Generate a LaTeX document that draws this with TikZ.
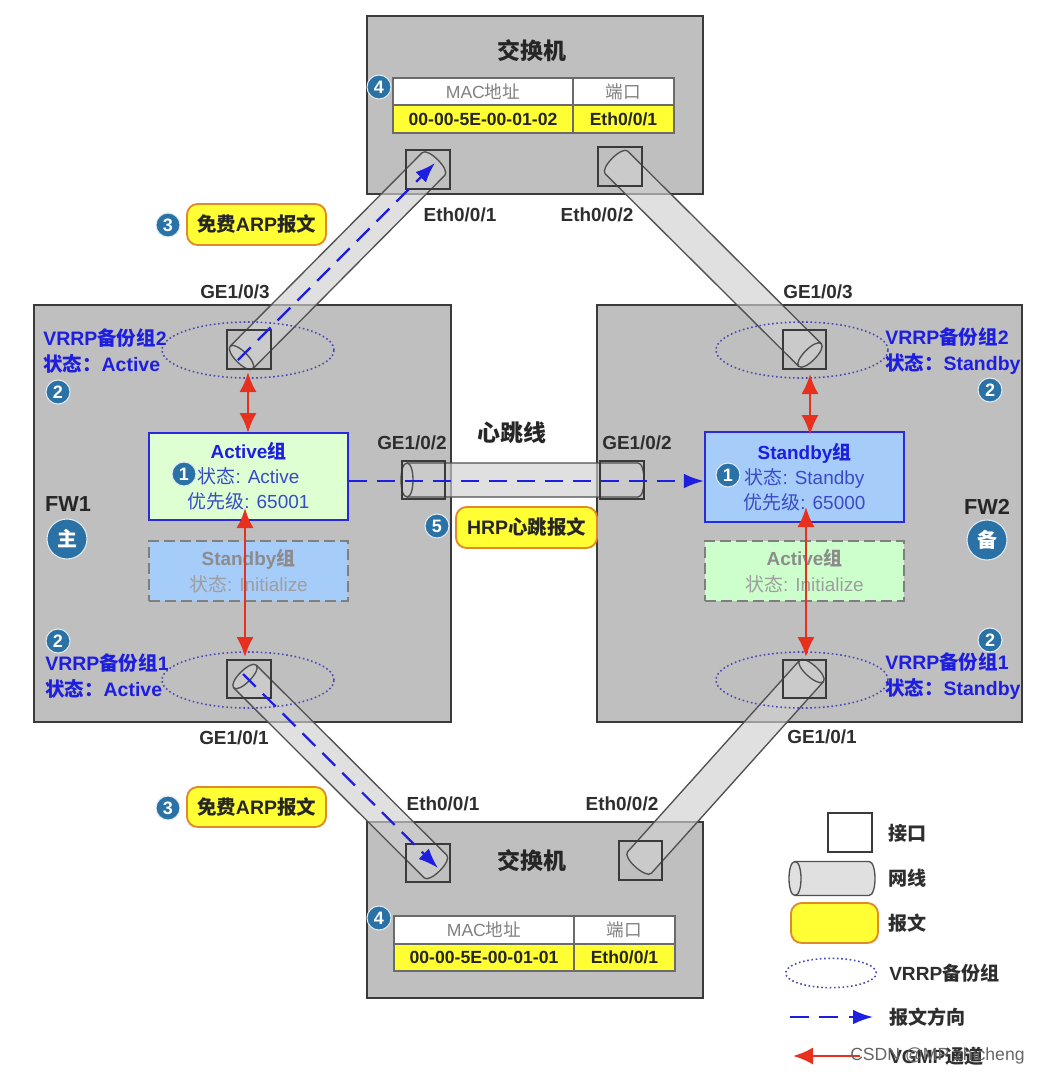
\documentclass[tikz,border=0pt]{standalone}
\usepackage{fontspec}
\setmainfont{Liberation Sans}
\newfontfamily\cjk{Noto Sans CJK SC}
\usetikzlibrary{calc,arrows.meta,shapes.geometric}
\definecolor{devgray}{HTML}{BFBFBF}
\definecolor{edgegray}{HTML}{3A3A3A}
\definecolor{cablegray}{HTML}{D0D0D0}
\definecolor{cableline}{HTML}{505050}
\definecolor{msgyellow}{HTML}{FFFF33}
\definecolor{msgorange}{HTML}{E08A2A}
\definecolor{vrblue}{HTML}{1E1EE0}
\definecolor{boxblue}{HTML}{2A2ADC}
\definecolor{txtblue}{HTML}{3A4AC8}
\definecolor{badgeblue}{HTML}{2A72A6}
\definecolor{paleblue}{HTML}{A6CCFA}
\definecolor{palegreen}{HTML}{DDFFD2}
\definecolor{dimgreen}{HTML}{CCFFCC}
\definecolor{arrred}{HTML}{E8301E}
\definecolor{dashedge}{HTML}{7F7F7F}
\newcommand{\rnode}[7][]{%
  \pgfmathsetmacro{\rw}{(#5-#3)*0.75}%
  \pgfmathsetmacro{\rh}{(#6-#4)*0.75}%
  \node[#1,minimum width=\rw pt,minimum height=\rh pt,inner sep=0pt] (#2) at ({(#3+#5)/2},{(#4+#6)/2}) {#7};}
% \cablerun{name}{ax}{ay}{bx}{by}
\newcommand{\cablerun}[6][16]{%
  \pgfmathsetmacro{\hw}{#1*0.75}%
  \coordinate (#2-a) at (#3,#4);
  \coordinate (#2-b) at (#5,#6);
  \coordinate (#2-a1) at ($(#2-a)!\hw pt!90:(#2-b)$);
  \coordinate (#2-a2) at ($(#2-a)!\hw pt!-90:(#2-b)$);
  \coordinate (#2-b1) at ($(#2-b)!\hw pt!-90:(#2-a)$);
  \coordinate (#2-b2) at ($(#2-b)!\hw pt!90:(#2-a)$);
  \path[cablefill] (#2-a1) -- (#2-b1)
    .. controls ($(#2-b1)!6pt!90:(#2-b)$) and ($(#2-b2)!6pt!-90:(#2-b)$) .. (#2-b2)
    -- (#2-a2)
    .. controls ($(#2-a2)!6pt!90:(#2-a)$) and ($(#2-a1)!6pt!-90:(#2-a)$) .. (#2-a1) -- cycle;
  \draw[cableedge] (#2-a1) -- (#2-b1)
    .. controls ($(#2-b1)!6pt!90:(#2-b)$) and ($(#2-b2)!6pt!-90:(#2-b)$) .. (#2-b2)
    -- (#2-a2)
    .. controls ($(#2-a2)!6pt!90:(#2-a)$) and ($(#2-a1)!6pt!-90:(#2-a)$) .. (#2-a1);
  \draw[cableedge] (#2-a1)
    .. controls ($(#2-a1)!6pt!90:(#2-a)$) and ($(#2-a2)!6pt!-90:(#2-a)$) .. (#2-a2);
}
\tikzset{
  device/.style={draw=edgegray,line width=1.6pt,fill=devgray},
  portbox/.style={draw=edgegray,line width=1.7pt},
  cablefill/.style={fill=cablegray,fill opacity=.65},
  cableedge/.style={draw=cableline,line width=1pt},
  tablehead/.style={draw=edgegray!75,line width=.8pt,fill=white,text=gray,font=\fontsize{13.2pt}{16pt}\selectfont},
  tablerow/.style={draw=edgegray!75,line width=.8pt,fill=msgyellow,text=black!85,font=\bfseries\fontsize{13.2pt}{16pt}\selectfont},
  msgbox/.style={draw=msgorange,line width=1.4pt,fill=msgyellow,rounded corners=8pt,text=black!85,font=\bfseries\fontsize{14.6pt}{17pt}\selectfont},
  lab/.style={inner sep=0pt,text=black!82,font=\bfseries\fontsize{14.2pt}{17pt}\selectfont},
  fwlab/.style={inner sep=0pt,text=black!85,font=\bfseries\fontsize{16.3pt}{19pt}\selectfont},
  titlelab/.style={inner sep=0pt,text=black!85,font=\bfseries\fontsize{17.2pt}{20pt}\selectfont},
  vrrplab/.style={inner sep=0pt,anchor=west,align=left,text=vrblue,font=\bfseries\fontsize{14.6pt}{19.4pt}\selectfont},
  groupbox/.style={draw=boxblue,line width=1.6pt,align=center,text=txtblue,font=\fontsize{14.2pt}{18.8pt}\selectfont},
  dimbox/.style={draw=dashedge,line width=1.6pt,dash pattern=on 8pt off 4pt,align=center,text=black!45,font=\fontsize{14.2pt}{19.4pt}\selectfont},
  vrrpring/.style={ellipse,draw=vrblue!55!gray,line width=1.2pt,dotted,minimum width=129pt,minimum height=42pt,inner sep=0pt},
  badge/.style={circle,fill=badgeblue,draw=white!85!badgeblue,line width=.8pt,text=white,minimum size=18pt,inner sep=0pt,font=\bfseries\fontsize{13.5pt}{15pt}\selectfont},
  bigbadge/.style={badge,minimum size=30pt,font=\bfseries\fontsize{15pt}{17pt}\selectfont},
  msgarrow/.style={draw=vrblue,line width=1.7pt,dash pattern=on 13.5pt off 7.5pt,-{Latex[length=15pt,width=11pt,fill=vrblue]}},
  syncarrow/.style={draw=arrred,line width=2.2pt,{Latex[length=15pt,width=13pt]}-{Latex[length=15pt,width=13pt]}},
  legendarrow/.style={draw=arrred,line width=2.2pt,{Latex[length=15pt,width=13pt]}-},
  legtext/.style={inner sep=0pt,anchor=west,text=black!82,font=\bfseries\fontsize{14.3pt}{16pt}\selectfont},
  mark text/.style={inner sep=0pt,text=black!60,font=\fontsize{13.2pt}{16pt}\selectfont},
  x=.75pt,y=-.75pt}
\begin{document}
\begin{tikzpicture}
\path[fill=white,use as bounding box] (0,0) rectangle (1040,1076);
% devices
\rnode[device]{swT}{367}{16}{703}{194}{}
\rnode[device]{swB}{367}{822}{703}{998}{}
\rnode[device]{fwA}{34}{305}{451}{722}{}
\rnode[device]{fwB}{597}{305}{1022}{722}{}
% tables
\rnode[tablehead]{tTm}{393}{78}{573}{105}{MAC{\cjk 地址}}
\rnode[tablehead]{tTp}{573}{78}{674}{105}{{\cjk 端口}}
\rnode[tablerow]{tTa}{393}{105}{573}{133}{00-00-5E-00-01-02}
\rnode[tablerow]{tTe}{573}{105}{674}{133}{Eth0/0/1}
\rnode[tablehead]{tBm}{394}{916}{574}{944}{MAC{\cjk 地址}}
\rnode[tablehead]{tBp}{574}{916}{675}{944}{{\cjk 端口}}
\rnode[tablerow]{tBa}{394}{944}{574}{971}{00-00-5E-00-01-01}
\rnode[tablerow]{tBe}{574}{944}{675}{971}{Eth0/0/1}
% group boxes
\rnode[groupbox,fill=palegreen]{actA}{149}{433}{348}{520}{{\bfseries\color{vrblue}Active{\cjk 组}}\\{\cjk 状态}: Active\\{\cjk 优先级}: 65001}
\rnode[dimbox,fill=paleblue]{stbA}{149}{541}{348}{601}{{\bfseries Standby{\cjk 组}}\\{\color{black!38}{\cjk 状态}: Initialize}}
\rnode[groupbox,fill=paleblue]{stbB}{705}{432}{904}{522}{{\bfseries\color{vrblue}Standby{\cjk 组}}\\{\cjk 状态}: Standby\\{\cjk 优先级}: 65000}
\rnode[dimbox,fill=dimgreen]{actB}{705}{541}{904}{601}{{\bfseries Active{\cjk 组}}\\{\color{black!38}{\cjk 状态}: Initialize}}
% cables
\cablerun{cTL}{241.5}{357.5}{433.5}{164}
\cablerun{cTR}{810}{355}{616.5}{162.5}
\cablerun{cBL}{245}{676.5}{435.5}{866.5}
\cablerun{cBR}{811.5}{671}{639.5}{862.5}
\cablerun[17]{cH}{407}{480}{638}{480}
% ports
\rnode[portbox]{pTL}{406}{150}{450}{189}{}
\rnode[portbox]{pTR}{598}{147}{642}{186}{}
\rnode[portbox]{pBL}{406}{844}{450}{882}{}
\rnode[portbox]{pBR}{619}{841}{662}{880}{}
\rnode[portbox]{pA3}{227}{330}{271}{369}{}
\rnode[portbox]{pA1}{227}{660}{271}{698}{}
\rnode[portbox]{pA2}{402}{461}{445}{499}{}
\rnode[portbox]{pB2}{600}{461}{644}{499}{}
\rnode[portbox]{pB3}{783}{330}{826}{369}{}
\rnode[portbox]{pB1}{783}{660}{826}{698}{}
% VRRP rings
\node[vrrpring] (rA3) at (248,350) {};
\node[vrrpring] (rA1) at (248,680) {};
\node[vrrpring] (rB3) at (802,350) {};
\node[vrrpring] (rB1) at (802,680) {};
% free ends of arrows
\coordinate (sA3a) at (248,372);
\coordinate (sA3b) at (248,433);
\coordinate (sA1a) at (245,508);
\coordinate (sA1b) at (245,657);
\coordinate (sB3a) at (810,374);
\coordinate (sB3b) at (810,435);
\coordinate (sB1a) at (806,507);
\coordinate (sB1b) at (806,657);
\coordinate (mTLa) at (238,360);
\coordinate (mTLb) at (435,163);
\coordinate (mBLa) at (243,674);
\coordinate (mBLb) at (438,868);
\draw[syncarrow] (sA3a) -- (sA3b);
\draw[syncarrow] (sA1a) -- (sA1b);
\draw[syncarrow] (sB3a) -- (sB3b);
\draw[syncarrow] (sB1a) -- (sB1b);
\draw[msgarrow] (mTLa) -- (mTLb);
\draw[msgarrow] (mBLa) -- (mBLb);
\draw[msgarrow] (actA.east |- 0,481) -- (stbB.west |- 0,481);
% titles
\node[titlelab] (tSwT) at (532,51) {{\cjk 交换机}};
\node[titlelab] (tSwB) at (532,861) {{\cjk 交换机}};
\node[titlelab] (tHb) at (512,433) {{\cjk 心跳线}};
\node[fwlab] (tFwA) at (68,504) {FW1};
\node[fwlab] (tFwB) at (987,507) {FW2};
% port labels
\node[lab] (l1) at (460,215) {Eth0/0/1};
\node[lab] (l2) at (597,215) {Eth0/0/2};
\node[lab] (l3) at (235,292) {GE1/0/3};
\node[lab] (l4) at (818,292) {GE1/0/3};
\node[lab] (l5) at (412,443) {GE1/0/2};
\node[lab] (l6) at (637,443) {GE1/0/2};
\node[lab] (l7) at (234,738) {GE1/0/1};
\node[lab] (l8) at (822,737) {GE1/0/1};
\node[lab] (l9) at (443,804) {Eth0/0/1};
\node[lab] (l10) at (622,804) {Eth0/0/2};
% VRRP labels
\node[vrrplab] (vA3) at (43,351) {VRRP{\cjk 备份组}2\\{\cjk 状态：}Active};
\node[vrrplab] (vA1) at (45,676) {VRRP{\cjk 备份组}1\\{\cjk 状态：}Active};
\node[vrrplab] (vB3) at (885,351) {VRRP{\cjk 备份组}2\\{\cjk 状态：}Standby};
\node[vrrplab] (vB1) at (885,676) {VRRP{\cjk 备份组}1\\{\cjk 状态：}Standby};
% messages
\rnode[msgbox]{mA}{187}{204}{326}{245}{{\cjk 免费}ARP{\cjk 报文}}
\rnode[msgbox]{mB}{187}{787}{326}{827}{{\cjk 免费}ARP{\cjk 报文}}
\rnode[msgbox]{mH}{456}{507}{597}{548}{HRP{\cjk 心跳报文}}
% badges
\node[badge] (b3a) at (168,225) {3};
\node[badge] (b3b) at (168,808) {3};
\node[badge] (b4a) at (379,87) {4};
\node[badge] (b4b) at (379,918) {4};
\node[badge] (b5) at (437,526) {5};
\node[badge] (b1a) at (184,474) {1};
\node[badge] (b1b) at (728,475) {1};
\node[badge] (b2a) at (58,392) {2};
\node[badge] (b2b) at (58,641) {2};
\node[badge] (b2c) at (990,390) {2};
\node[badge] (b2d) at (990,640) {2};
\node[bigbadge] (bm) at (67,539) {{\cjk 主}};
\node[bigbadge] (bs) at (987,540) {{\cjk 备}};
% legend
\rnode[portbox,fill=white]{kPort}{828}{813}{872}{852}{}
\cablerun[17]{kCable}{795}{878.5}{869}{878.5}
\rnode[msgbox]{kMsg}{791}{903}{878}{943}{}
\node[vrrpring,minimum width=68pt,minimum height=22pt] (kRing) at (831,973) {};
\coordinate (kMa) at (790,1017);
\coordinate (kMb) at (873,1017);
\draw[msgarrow,dash pattern=on 14pt off 8pt] (kMa) -- (kMb);
\coordinate (kSa) at (793,1056);
\coordinate (kSb) at (860,1056);
\draw[legendarrow] (kSa) -- (kSb);
\node[legtext] (k1) at (888,833) {{\cjk 接口}};
\node[legtext] (k2) at (888,878) {{\cjk 网线}};
\node[legtext] (k3) at (888,923) {{\cjk 报文}};
\node[legtext] (k4) at (889,973) {VRRP{\cjk 备份组}};
\node[legtext] (k5) at (889,1017) {{\cjk 报文方向}};
\node[legtext] (k6) at (889,1056) {VGMP{\cjk 通道}};
\node[mark text,anchor=west] (wm) at (850,1056) {CSDN @MP zhicheng};
\end{tikzpicture}
\end{document}
